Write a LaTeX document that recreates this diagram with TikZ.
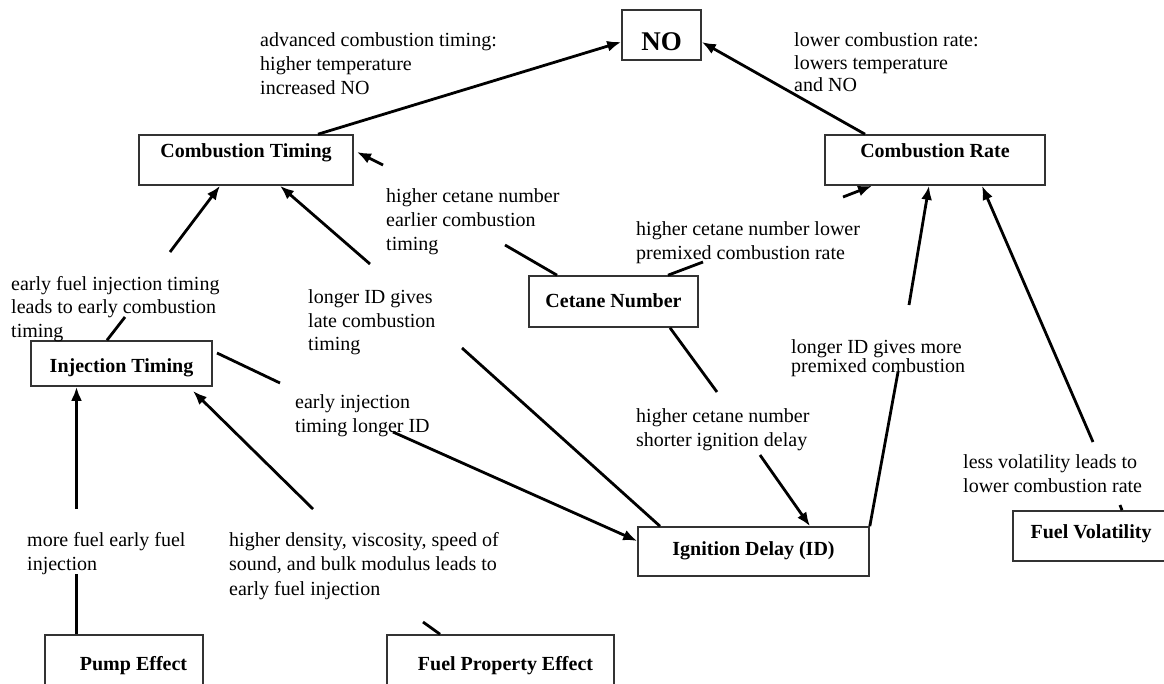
\documentclass[tikz,border=0pt]{standalone}
\usepackage{fontspec}
\setmainfont{Liberation Serif}
\usetikzlibrary{arrows.meta}
\begin{document}
\begin{tikzpicture}[x=1pt,y=-1pt,
  box/.style={draw=black!80, line width=1.6pt, inner sep=0pt, font=\fontsize{20}{24}\selectfont\bfseries},
  lbl/.style={anchor=base west, align=left, inner sep=0pt, font=\fontsize{20}{23.7}\selectfont},
  conn/.style={line width=2.8pt, black},
  arr/.style={conn, -{Latex[length=14pt,width=11pt]}}]
\useasboundingbox (0,0) rectangle (1164,683);
\clip (0,0) rectangle (1164,683);

% boxes
\node[box, minimum width=79pt, minimum height=50pt, text height=30pt, text depth=0pt,
      font=\fontsize{27}{30}\selectfont\bfseries] (no) at (661.5,35) {NO};
\node[box, minimum width=214pt, minimum height=50pt, text height=11.5pt, text depth=16.5pt] (ct) at (246,160) {Combustion Timing};
\node[box, minimum width=220pt, minimum height=50pt, text height=11.5pt, text depth=16.5pt] (cr) at (935,160) {Combustion Rate};
\node[box, minimum width=181pt, minimum height=45pt, text height=23.2pt, text depth=4.8pt] (it) at (121.5,363.5) {Injection Timing};
\node[box, minimum width=169pt, minimum height=51pt, text height=20.2pt, text depth=7.8pt] (cn) at (613.5,301.5) {Cetane Number};
\node[box, minimum width=231pt, minimum height=49pt, text height=17.5pt, text depth=10.5pt] (id) at (753.5,551.5) {Ignition Delay (ID)};
\node[box, minimum width=156pt, minimum height=50pt, text height=16pt, text depth=12pt] (fv) at (1091,536) {Fuel Volatility};
\node[box, minimum width=158pt, minimum height=55pt, text height=21.5pt, text depth=6.5pt] (pe) at (124,662.5) {\hspace*{19pt}Pump Effect};
\node[box, minimum width=227pt, minimum height=55pt, text height=21.5pt, text depth=6.5pt] (fpe) at (500.5,662.5) {\hspace*{10pt}Fuel Property Effect};

% labels (positioned at the baseline of their last line)
\node[lbl] (l1) at (260,94.1) {advanced combustion timing:\\higher temperature\\increased NO};
\node[lbl, font=\fontsize{20}{22.5}\selectfont] (l2) at (794,91.7) {lower combustion rate:\\lowers temperature\\and NO};
\node[lbl] (l3) at (386,250.1) {higher cetane number\\earlier combustion\\timing};
\node[lbl, font=\fontsize{20}{24.3}\selectfont] (l4) at (636,259.3) {higher cetane number lower\\premixed combustion rate};
\node[lbl] (l5) at (11,337.4) {early fuel injection timing\\leads to early combustion\\timing};
\node[lbl] (l6) at (308,350.7) {longer ID gives\\late combustion\\timing};
\node[lbl] (l7) at (295,432) {early injection\\timing longer ID};
\node[lbl, font=\fontsize{20}{16}\selectfont] (l8) at (791,372.7) {longer ID gives more\\premixed combustion};
\node[lbl] (l9) at (636,446.4) {higher cetane number\\shorter ignition delay};
\node[lbl] (l10) at (963,492) {less volatility leads to\\lower combustion rate};
\node[lbl, font=\fontsize{20}{24}\selectfont] (l11) at (27,570.7) {more fuel early fuel\\injection};
\node[lbl, font=\fontsize{20}{24.2}\selectfont] (l12) at (229,595.1) {higher density, viscosity, speed of\\sound, and bulk modulus leads to\\early fuel injection};

% free ends of connectors
\coordinate (c1) at (125,317);
\coordinate (c2) at (170,252);
\coordinate (d1) at (462,348);
\coordinate (d2) at (370,264);
\coordinate (e1) at (505,245);
\coordinate (e2) at (383,165);
\coordinate (e3) at (357,152);
\coordinate (f1) at (703,262);
\coordinate (f2) at (843,197);
\coordinate (g1) at (717,392);
\coordinate (g2) at (760,455);
\coordinate (h1) at (898,372);
\coordinate (h2) at (909,305);
\coordinate (i1) at (1120,505);
\coordinate (i2) at (1093,442);
\coordinate (j0) at (217,353);
\coordinate (j1) at (280,383);
\coordinate (j2) at (393,432);
\coordinate (k1) at (76.5,574);
\coordinate (k2) at (76.5,509);
\coordinate (m1) at (423,622);
\coordinate (m2) at (313,509);
\coordinate (m3) at (193,391);

% connectors
\draw[arr] (ct.north -| 318,0) -- (no.west |- 0,42);
\draw[arr] (cr.north -| 865,0) -- (no.east |- 0,42);
\draw[conn] (it.north -| 107,0) -- (c1);
\draw[arr] (c2) -- (ct.south -| 220,0);
\draw[conn] (id.north -| 660,0) -- (d1);
\draw[arr] (d2) -- (ct.south -| 280,0);
\draw[conn] (cn.north -| 557,0) -- (e1);
\draw[arr] (e2) -- (e3);
\draw[conn] (cn.north -| 668,0) -- (f1);
\draw[arr] (f2) -- (cr.south -| 872,0);
\draw[conn] (cn.south -| 670,0) -- (g1);
\draw[arr] (g2) -- (id.north -| 810,0);
\draw[conn] (id.north east) -- (h1);
\draw[arr] (h2) -- (cr.south -| 929,0);
\draw[conn] (fv.north -| 1122,0) -- (i1);
\draw[arr] (i2) -- (cr.south -| 982,0);
\draw[conn] (j0) -- (j1);
\draw[arr] (j2) -- (id.west |- 0,541);
\draw[conn] (pe.north -| 76.5,0) -- (k1);
\draw[arr] (k2) -- (it.south -| 76.5,0);
\draw[conn] (fpe.north -| 440,0) -- (m1);
\draw[arr] (m2) -- (m3);
\end{tikzpicture}
\end{document}
